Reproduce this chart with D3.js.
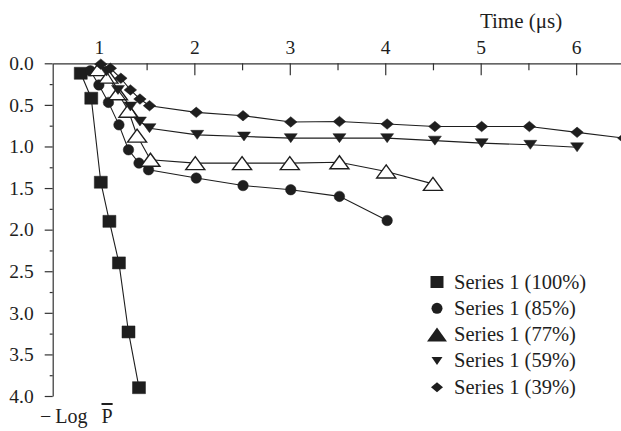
<!DOCTYPE html>
<html>
<head>
<meta charset="utf-8">
<script src="https://cdn.jsdelivr.net/npm/d3@7.9.0/dist/d3.min.js"></script>
<style>
  body { margin: 0; background: #fff; }
  svg { display: block; font-family: "Liberation Serif", "Times New Roman", serif; }
</style>
</head>
<body>
<div id="chart"></div>
<script>
// values: time (µs) and -log P
const xTicks = [1, 2, 3, 4, 5, 6];
const xMinor = [1.5, 2.5, 3.5, 4.5, 5.5];
const yTicks = [0, 0.5, 1, 1.5, 2, 2.5, 3, 3.5, 4];
const yMinor = [0.25, 0.75, 1.25, 1.75, 2.25, 2.75, 3.25, 3.75];

const s100x = [0.81, 0.92, 1.02, 1.11, 1.21, 1.31, 1.42];
const s100y = [0.12, 0.42, 1.43, 1.90, 2.40, 3.23, 3.90];

const s85x = [0.91, 1.0, 1.1, 1.21, 1.31, 1.42, 1.52, 2.02, 2.51, 3.01, 3.52, 4.02];
const s85y = [0.09, 0.26, 0.47, 0.74, 1.04, 1.20, 1.28, 1.38, 1.47, 1.52, 1.60, 1.89];

const s77x = [1.0, 1.1, 1.2, 1.31, 1.4, 1.54, 2.01, 2.5, 3.0, 3.52, 4.01, 4.5];
const s77y = [0.07, 0.16, 0.36, 0.57, 0.87, 1.16, 1.2, 1.2, 1.2, 1.19, 1.30, 1.45];

const s59x = [1.08, 1.2, 1.33, 1.43, 1.53, 2.03, 2.52, 3.01, 3.52, 4.02, 4.52, 5.01, 5.52, 6.01];
const s59y = [0.10, 0.32, 0.52, 0.70, 0.78, 0.86, 0.88, 0.90, 0.90, 0.90, 0.93, 0.96, 0.98, 1.01];

const s39x = [1.02, 1.12, 1.23, 1.33, 1.43, 1.53, 2.02, 2.51, 3.01, 3.52, 4.02, 4.52, 5.01, 5.51, 6.01, 6.5];
const s39y = [0.01, 0.06, 0.18, 0.32, 0.43, 0.51, 0.59, 0.63, 0.705, 0.70, 0.73, 0.76, 0.76, 0.76, 0.83, 0.90];

const labels = ["Series 1 (100%)", "Series 1 (85%)", "Series 1 (77%)", "Series 1 (59%)", "Series 1 (39%)"];

const width = 621;
const height = 431;
const ink = "#1e1e1e";

// marker shapes, w/h in px
function shape(kind, w, h) {
  const a = w / 2, b = h / 2;
  if (kind === "square") return `M${-a},${-b}H${a}V${b}H${-a}Z`;
  if (kind === "circle") return `M${a},0A${a},${a} 0 1,1 ${-a},0A${a},${a} 0 1,1 ${a},0Z`;
  if (kind === "up") return `M0,${-b}L${a},${b}L${-a},${b}Z`;
  if (kind === "down") return `M0,${b}L${a},${-b}L${-a},${-b}Z`;
  return `M0,${-b}L${a},0L0,${b}L${-a},0Z`;
}

const series = [
  { xs: s100x, ys: s100y, kind: "square", w: 13, h: 12, fill: ink },
  { xs: s85x, ys: s85y, kind: "circle", w: 10.5, h: 10.5, fill: ink },
  { xs: s77x, ys: s77y, kind: "up", w: 19, h: 13, fill: "#fff" },
  { xs: s59x, ys: s59y, kind: "down", w: 13, h: 9, fill: ink },
  { xs: s39x, ys: s39y, kind: "diamond", w: 12.5, h: 10.5, fill: ink }
];

const svg = d3.select("#chart").append("svg")
  .attr("width", width)
  .attr("height", height)
  .attr("viewBox", `0 0 ${width} ${height}`);

const xScale = d3.scaleLinear().domain([0.516, 6.47]).range([52.7, 621]);
const yScale = d3.scaleLinear().domain([0, 4]).range([63.3, 396]);

// top x axis, ticks pointing down into the plot
svg.append("g").attr("transform", `translate(0,${yScale(0)})`)
  .call(d3.axisTop(xScale).tickValues(xTicks).tickSize(-12).tickSizeOuter(0).tickPadding(9).tickFormat(d3.format("d")));
svg.append("g").attr("transform", `translate(0,${yScale(0)})`)
  .call(d3.axisTop(xScale).tickValues(xMinor).tickSize(-7).tickSizeOuter(0).tickFormat(""))
  .select(".domain").remove();

svg.append("g").attr("transform", `translate(${xScale.range()[0]},0)`)
  .call(d3.axisLeft(yScale).tickValues(yTicks).tickSize(8).tickSizeOuter(0).tickPadding(11).tickFormat(d3.format(".1f")));
svg.append("g").attr("transform", `translate(${xScale.range()[0]},0)`)
  .call(d3.axisLeft(yScale).tickValues(yMinor).tickSize(3).tickSizeOuter(0).tickFormat(""))
  .select(".domain").remove();

svg.selectAll(".domain, .tick line").attr("stroke", "#333").attr("stroke-width", 1.2);
svg.selectAll(".tick text").attr("fill", ink).style("font-size", "19.5px").style("font-family", "Liberation Serif");

svg.append("text")
  .attr("x", 521).attr("y", 28)
  .attr("text-anchor", "middle")
  .attr("fill", ink)
  .style("font-size", "21px")
  .text("Time (\u03bcs)");

const ylab = svg.append("text")
  .attr("x", 40).attr("y", 423)
  .attr("fill", ink)
  .style("font-size", "20px");
ylab.append("tspan").text("\u2212");
ylab.append("tspan").attr("dx", 4).text("Log");
ylab.append("tspan").attr("dx", 14).style("text-decoration", "overline").text("P");

const line = d3.line().x(d => xScale(d[0])).y(d => yScale(d[1]));

series.forEach(s => {
  const pts = s.xs.map((x, i) => [x, s.ys[i]]);
  svg.append("path")
    .attr("d", line(pts))
    .attr("fill", "none")
    .attr("stroke", ink)
    .attr("stroke-width", 1.1);
  svg.append("g").selectAll("path")
    .data(pts)
    .join("path")
    .attr("transform", d => `translate(${xScale(d[0])},${yScale(d[1])})`)
    .attr("d", shape(s.kind, s.w, s.h))
    .attr("fill", s.fill)
    .attr("stroke", ink)
    .attr("stroke-width", s.fill === "#fff" ? 1.4 : 0.5);
});

// legend
const legendShapes = [
  { kind: "square", w: 13, h: 12 },
  { kind: "circle", w: 11, h: 11 },
  { kind: "up", w: 20, h: 14 },
  { kind: "down", w: 11, h: 8 },
  { kind: "diamond", w: 12, h: 10 }
];
const legend = svg.append("g").attr("transform", "translate(437,282)");
const rows = legend.selectAll("g")
  .data(labels)
  .join("g")
  .attr("transform", (d, i) => `translate(0,${i * 26.3})`);
rows.append("path")
  .attr("d", (d, i) => shape(legendShapes[i].kind, legendShapes[i].w, legendShapes[i].h))
  .attr("fill", ink);
rows.append("text")
  .attr("x", 17).attr("y", 6.5)
  .attr("fill", ink)
  .style("font-size", "20.5px")
  .text(d => d);
</script>
</body>
</html>
